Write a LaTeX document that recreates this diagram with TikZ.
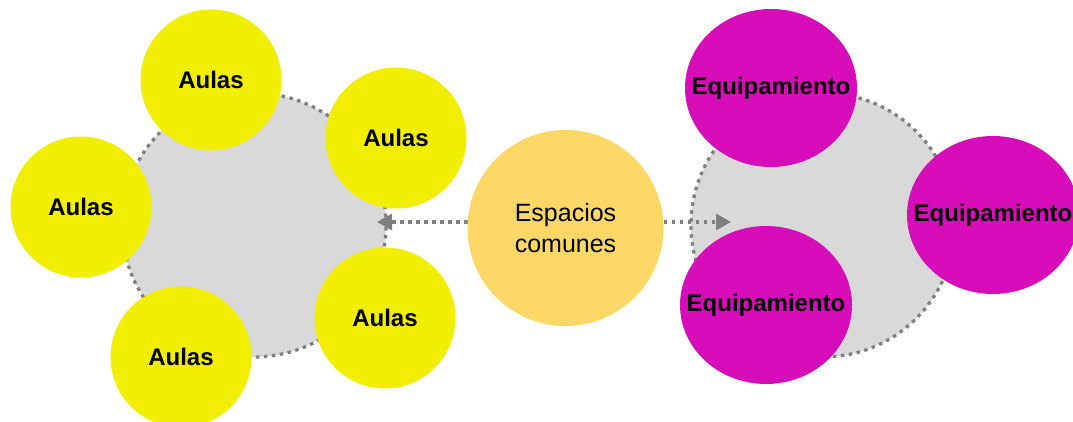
\documentclass[tikz,border=0pt]{standalone}
\usepackage{fontspec}
\setmainfont{Liberation Sans}
\usetikzlibrary{shapes.geometric,arrows.meta}
\definecolor{aulay}{HTML}{F2EE00}
\definecolor{equipm}{HTML}{D60DB8}
\definecolor{espo}{HTML}{FDD867}
\definecolor{grayfill}{HTML}{D9D9D9}
\definecolor{dotgray}{HTML}{808080}
\pgfdeclarelayer{bg}
\pgfdeclarelayer{mid}
\pgfsetlayers{bg,mid,main}
\tikzset{
  groupc/.style={circle, fill=grayfill, draw=dotgray, line width=3.3pt, dash pattern=on 3.5pt off 4.5pt, minimum size=264pt, inner sep=0pt},
  aula/.style={circle, fill=aulay, minimum size=141pt, inner sep=0pt, font=\fontsize{24pt}{28pt}\selectfont\bfseries},
  equip/.style={ellipse, fill=equipm, minimum width=172pt, minimum height=158pt, inner sep=0pt},
  eqlbl/.style={font=\fontsize{24pt}{28pt}\selectfont\bfseries, inner sep=0pt},
  espc/.style={circle, fill=espo, minimum size=196pt, inner sep=0pt, align=center, font=\fontsize{25pt}{31.6pt}\selectfont},
  conn/.style={draw=dotgray, line width=3.3pt, dash pattern=on 3.5pt off 4.5pt, -{Triangle[length=15pt,width=16pt]}}
}
\begin{document}
\begin{tikzpicture}[x=1pt,y=-1pt]
\useasboundingbox (0,0) rectangle (1073,422);
% colored nodes
\node[aula] (a1) at (211,80) {Aulas};
\node[aula] (a2) at (396,138) {Aulas};
\node[aula] (a3) at (81,207) {Aulas};
\node[aula] (a4) at (385,318) {Aulas};
\node[aula] (a5) at (181,357) {Aulas};
\node[espc] (esp) at (565.5,228) {Espacios\\comunes};
\node[equip] (e1) at (771,88) {};
\node[eqlbl] at (e1) {Equipamiento};
\node[equip] (e2) at (993,215) {};
\node[eqlbl] at (e2) {Equipamiento};
\node[equip] (e3) at (766,305) {};
\node[eqlbl] at (e3) {Equipamiento};
% group circles
\begin{pgfonlayer}{bg}
\fill[white] (0,0) rectangle (1073,422);
\node[groupc] (g1) at (254,225) {};
\node[groupc] (g2) at (823,225) {};
\end{pgfonlayer}
% connectors
\coordinate (lt) at (377,222);
\coordinate (rt) at (731,222);
\begin{pgfonlayer}{mid}
\draw[conn] (esp.center |- lt) ++(-98,0) -- (lt);
\draw[conn] (esp.center |- rt) ++(98,0) -- (rt);
\end{pgfonlayer}
\end{tikzpicture}
\end{document}
